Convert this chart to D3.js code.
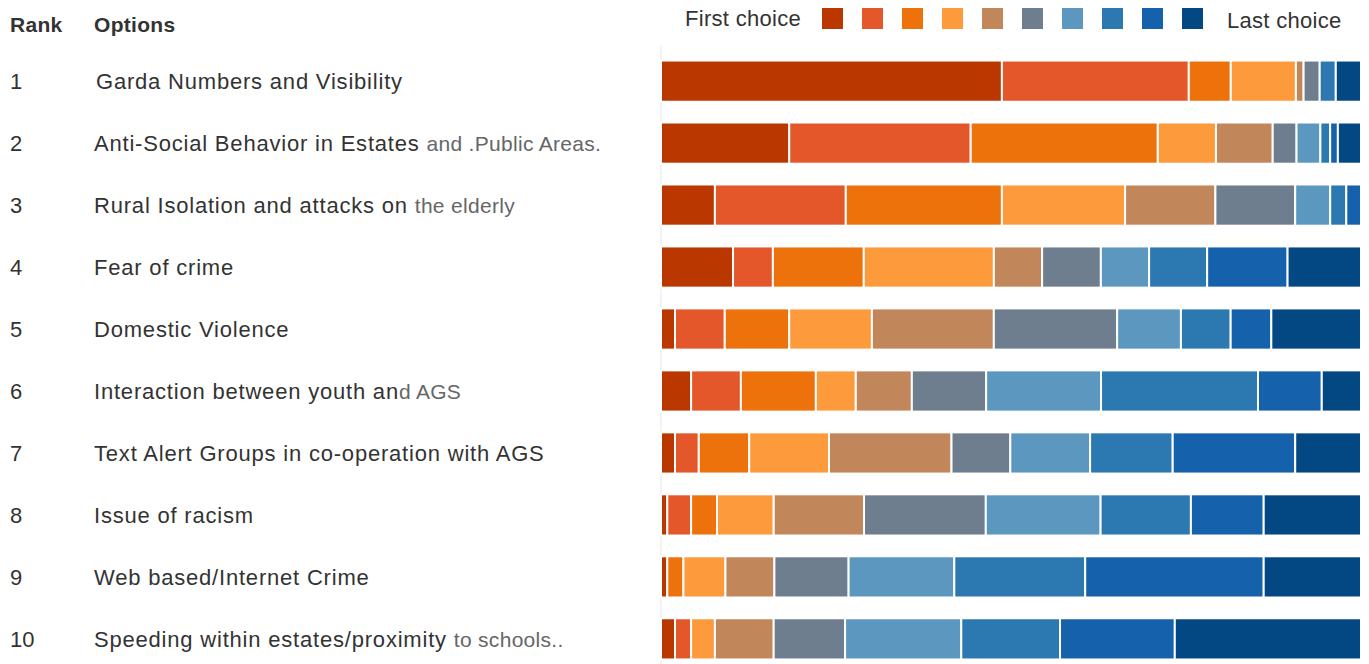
<!DOCTYPE html>
<html>
<head>
<meta charset="utf-8">
<script src="https://cdn.jsdelivr.net/npm/d3@7"></script>
<style>
  body { margin: 0; background: #fff; }
  text { font-family: "Liberation Sans", Arial, sans-serif; }
</style>
</head>
<body>
<script>
const width = 1369;
const height = 664;

// rank labels and options (second string is the faded tail of the label)
const ranks = ["1", "2", "3", "4", "5", "6", "7", "8", "9", "10"];
const options = [
    ["Garda Numbers and Visibility", ""],
    ["Anti-Social Behavior in Estates ", "and .Public Areas."],
    ["Rural Isolation and attacks on ", "the elderly"],
    ["Fear of crime", ""],
    ["Domestic Violence", ""],
    ["Interaction between youth an", "d AGS"],
    ["Text Alert Groups in co-operation with AGS", ""],
    ["Issue of racism", ""],
    ["Web based/Internet Crime", ""],
    ["Speeding within estates/proximity ", "to schools.."]
];
const choices = ["c1", "c2", "c3", "c4", "c5", "c6", "c7", "c8", "c9", "c10"];
const colors = ["#ba3800", "#e4572a", "#ed720b", "#fd9b3c", "#c2865b",
                "#6f7e8e", "#5c97bf", "#2c79b1", "#1661ab", "#034882"];

// share of each choice (percent), first choice .. last choice
const c1  = [48.7, 18.3,  7.7, 10.3,  2.0,  4.3,  2.0,  0.9,  0.9,  2.0];
const c2  = [26.7, 25.9, 18.7,  5.7,  7.1,  7.1,  3.4,  3.4,  0.0,  2.3];
const c3  = [ 6.0, 26.7, 22.3, 13.0,  9.2, 10.7,  7.2,  3.7,  2.3,  0.0];
const c4  = [ 9.3,  8.3, 17.6, 18.6, 11.8,  5.7, 11.4,  8.1,  6.0,  3.4];
const c5  = [ 1.1,  8.1, 12.9,  6.9, 17.4,  8.0, 17.5, 12.9,  7.0,  8.4];
const c6  = [ 2.3,  3.4, 11.4,  8.4, 17.6, 10.6,  8.4, 17.4, 10.6, 10.2];
const c7  = [ 0.0,  3.4,  5.0,  6.9,  9.1, 16.4, 11.4, 16.4, 15.1, 16.6];
const c8  = [ 2.3,  1.4,  2.3,  8.3,  7.1, 22.4, 11.8, 12.9, 18.7, 14.1];
const c9  = [ 0.0,  1.1,  2.1, 11.5,  5.8,  9.1, 17.5, 10.4, 25.5, 16.4];
const c10 = [ 3.6,  3.3,  0.0, 10.5, 12.8,  5.6,  9.4, 13.9, 13.9, 26.6];

const series = [c1, c2, c3, c4, c5, c6, c7, c8, c9, c10];
const table = ranks.map((r, i) => {
    const row = { rank: r };
    choices.forEach((c, j) => row[c] = series[j][i]);
    return row;
});

const svg = d3.select("body")
    .append("svg")
    .attr("width", width)
    .attr("height", height);

const x = d3.scaleLinear().domain([0, 1]).range([661, 1361]);
const y = d3.scaleBand().domain(ranks).range([50, 670]).paddingInner(0.335).paddingOuter(0.17);
const color = d3.scaleOrdinal().domain(choices).range(colors);

const stacked = d3.stack()
    .keys(choices)
    .offset(d3.stackOffsetExpand)(table);

// faint left axis line
svg.append("line")
    .attr("x1", 661).attr("x2", 661)
    .attr("y1", 45).attr("y2", height)
    .attr("stroke", "#e6e6e6")
    .attr("stroke-width", 1);

svg.append("g")
    .selectAll("g")
    .data(stacked)
    .enter()
    .append("g")
    .attr("fill", d => color(d.key))
    .selectAll("rect")
    .data(d => d)
    .enter()
    .append("rect")
    .attr("x", d => x(d[0]))
    .attr("y", d => y(d.data.rank))
    .attr("width", d => Math.max(0, x(d[1]) - x(d[0])))
    .attr("height", y.bandwidth())
    .attr("stroke", "#fff")
    .attr("stroke-width", d => (x(d[1]) - x(d[0])) > 0 ? 2 : 0);

// header
svg.append("text")
    .attr("x", 10).attr("y", 32)
    .attr("font-size", 21).attr("font-weight", "bold")
    .attr("letter-spacing", 0.3)
    .attr("fill", "#333")
    .text("Rank");
svg.append("text")
    .attr("x", 94).attr("y", 32)
    .attr("font-size", 21).attr("font-weight", "bold")
    .attr("letter-spacing", 0.3)
    .attr("fill", "#333")
    .text("Options");

// row labels
const rowLabel = svg.append("g")
    .selectAll("g")
    .data(ranks)
    .enter()
    .append("g")
    .attr("transform", d => `translate(0,${y(d) + y.bandwidth() / 2 + 8})`);

rowLabel.append("text")
    .attr("x", 10)
    .attr("font-size", 22)
    .attr("fill", "#333")
    .attr("font-family", d => d === "5" ? "Liberation Serif, serif" : null)
    .text(d => d);

const optText = rowLabel.append("text")
    .attr("x", (d, i) => i === 0 ? 96 : 94)
    .attr("font-size", 22)
    .attr("letter-spacing", 0.8)
    .attr("fill", "#333")
    .style("white-space", "pre");
optText.append("tspan").text((d, i) => options[i][0]);
optText.append("tspan")
    .attr("fill", "#666")
    .attr("font-size", 21)
    .attr("letter-spacing", 0.3)
    .text((d, i) => options[i][1]);

// legend
const legend = svg.append("g");
legend.append("text")
    .attr("x", 685).attr("y", 26)
    .attr("font-size", 22).attr("letter-spacing", 0.3).attr("fill", "#333")
    .text("First choice");
legend.selectAll("rect")
    .data(choices)
    .enter()
    .append("rect")
    .attr("x", (d, i) => 822 + i * 40)
    .attr("y", 8)
    .attr("width", 21)
    .attr("height", 21)
    .attr("fill", d => color(d));
legend.append("text")
    .attr("x", 1227).attr("y", 28)
    .attr("font-size", 22).attr("letter-spacing", 0.3).attr("fill", "#333")
    .text("Last choice");
</script>
</body>
</html>
